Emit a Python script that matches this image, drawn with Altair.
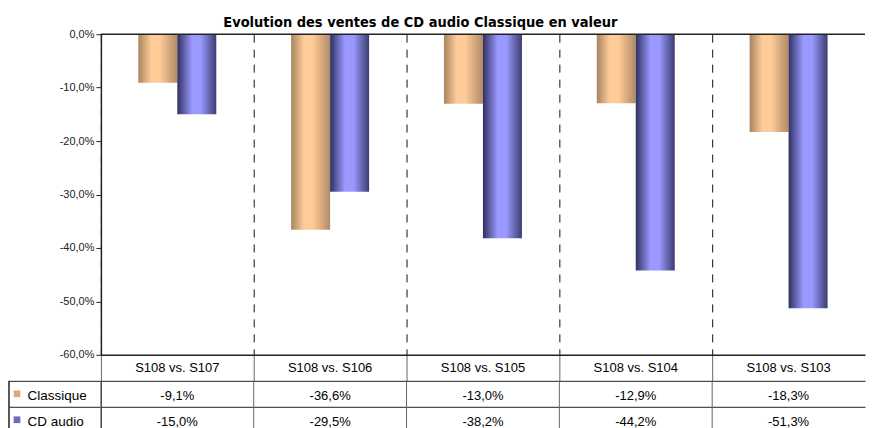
import altair as alt
import pandas as pd

categories = ["S108 vs. S107", "S108 vs. S106", "S108 vs. S105", "S108 vs. S104", "S108 vs. S103"]
series_names = ["Classique", "CD audio"]
classique = [-9.1, -36.6, -13.0, -12.9, -18.3]
cd_audio = [-15.0, -29.5, -38.2, -44.2, -51.3]
y_ticks = [0, -10, -20, -30, -40, -50, -60]

rows = []
for s, vals in zip(series_names, [classique, cd_audio]):
    for c, v in zip(categories, vals):
        rows.append({"cat": c, "serie": s, "value": v,
                     "label": f"{v:.1f}".replace(".", ",") + "%"})
df = pd.DataFrame(rows)
series_df = pd.DataFrame({"serie": series_names})
cat_df = pd.DataFrame({"cat": categories})
zero_df = pd.DataFrame({"v": [0]})

FONT = "Liberation Sans"
W = 765
H = 321
ROW_H = 26


def grad(stops):
    return alt.LinearGradient(
        gradient="linear", x1=0, x2=1, y1=0, y2=0,
        stops=[alt.GradientStop(offset=o, color=c) for o, c in stops])


grad_classique = grad([(0, "#a8845f"), (0.33, "#ffcc99"), (0.55, "#ffcc99"), (1, "#b08a66")])
grad_cd = grad([(0, "#303060"), (0.38, "#9999ff"), (0.6, "#9999ff"), (1, "#3c3c70")])

cat_scale = alt.Scale(domain=categories, paddingInner=0, paddingOuter=0)

x_main = alt.X(
    "cat:N", sort=categories, scale=cat_scale,
    axis=alt.Axis(orient="bottom", labels=False, title=None, bandPosition=0,
                  domain=True, domainColor="#222", domainWidth=1.5,
                  ticks=True, tickSize=ROW_H, tickColor="#666", tickWidth=1,
                  grid=True, gridDash=[8, 7], gridColor="#111", gridWidth=1))
x_off = alt.XOffset("serie:N", sort=series_names,
                    scale=alt.Scale(domain=series_names, paddingInner=0, paddingOuter=0.96))
y_main = alt.Y(
    "value:Q",
    scale=alt.Scale(domain=[-60, 0], nice=False),
    axis=alt.Axis(values=y_ticks, title=None, grid=False,
                  labelExpr="replace(replace(format(datum.value, '.1f'), '.', ','), '\u2212', '-') + '%'",
                  domainColor="#222", domainWidth=1.5, tickColor="#222", tickSize=5,
                  labelFontSize=11, labelFont=FONT, labelColor="#222", labelPadding=2))

bars_c = alt.Chart(df).transform_filter(alt.datum.serie == "Classique").mark_bar(
    color=grad_classique).encode(x=x_main, xOffset=x_off, y=y_main)
bars_d = alt.Chart(df).transform_filter(alt.datum.serie == "CD audio").mark_bar(
    color=grad_cd).encode(x=x_main, xOffset=x_off, y=y_main)
zero_rule = alt.Chart(zero_df).mark_rule(color="#222", strokeWidth=1.5).encode(y=alt.Y("v:Q"))

main = alt.layer(bars_c, bars_d, zero_rule).properties(width=W, height=H)

x_tab = alt.X(
    "cat:N", sort=categories, scale=cat_scale,
    axis=alt.Axis(orient="top", title=None, ticks=False, domain=False, grid=False,
                  labelPadding=9, labelBaseline="alphabetic", labelAngle=0,
                  labelFontSize=13, labelFont=FONT, labelColor="#000"))
y_tab = alt.Y(
    "serie:N", sort=series_names,
    scale=alt.Scale(domain=series_names, paddingInner=0, paddingOuter=0),
    axis=alt.Axis(title=None, orient="left", ticks=True, tickBand="extent", tickSize=92,
                  tickColor="#222", domain=True, domainColor="#222", grid=True, gridColor="#222",
                  labelAlign="left", labelPadding=-18, labelOffset=2,
                  labelFontSize=13.5, labelFont=FONT, labelColor="#000"))

cells = alt.Chart(df).mark_text(fontSize=13, font=FONT, color="#000", dy=2).encode(
    x=x_tab, y=y_tab, text="label:N")
col_lines = alt.Chart(cat_df).mark_rule(color="#666", strokeWidth=1).encode(
    x=alt.X("cat:N", sort=categories, scale=cat_scale, bandPosition=0))
keys = alt.Chart(series_df).mark_point(shape="square", filled=True, size=45, opacity=1).encode(
    x=alt.value(-84), y=alt.Y("serie:N", sort=series_names),
    color=alt.Color("serie:N", scale=alt.Scale(domain=series_names, range=["#dcaa80", "#6b6bc4"]),
                    legend=None))
border = alt.Chart(series_df).mark_rule(color="#222").encode(
    x=alt.value(-92), y=alt.value(0), y2=alt.value(2 * ROW_H))

table = alt.layer(cells, col_lines, keys, border).properties(width=W, height=2 * ROW_H)

chart = alt.vconcat(main, table, spacing=ROW_H, bounds="flush").properties(
    padding={"top": 6, "left": 0, "right": 0, "bottom": 0},
    title=alt.TitleParams(
        text="Evolution des ventes de CD audio Classique en valeur",
        font="Liberation Sans Narrow, DejaVu Sans Condensed, sans-serif",
        fontSize=14.5, fontWeight="bold", color="#000",
        anchor="start", dx=215, offset=-2),
).configure_view(stroke=None)

chart.save("out.html", embed_options={"renderer": "svg", "actions": False})
